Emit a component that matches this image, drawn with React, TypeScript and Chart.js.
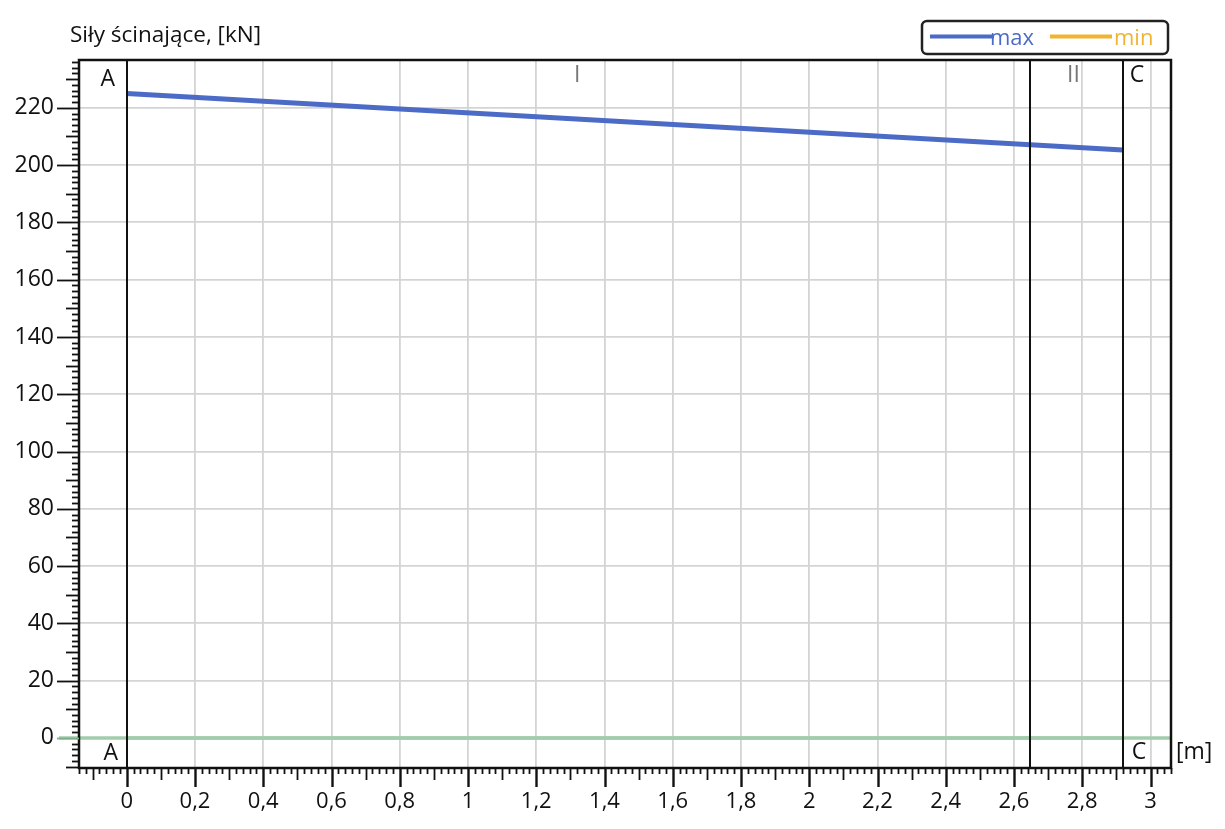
import React, { useEffect, useRef } from "react";
import { Chart, registerables } from "chart.js";

Chart.register(...registerables);

// ---- data ----
const sectionLines = [0, 2.647, 2.919];
const maxX = [0, 2.919];
const maxValues = [225, 205.3];
const minX = [0, 2.919];
const minValues = [0, 0];
const xTickValues = [0, 0.2, 0.4, 0.6, 0.8, 1, 1.2, 1.4, 1.6, 1.8, 2, 2.2, 2.4, 2.6, 2.8, 3];
const yTickValues = [0, 20, 40, 60, 80, 100, 120, 140, 160, 180, 200, 220];
const legendNames = ["max", "min"];
const titleText = "Siły ścinające, [kN]";
const unitText = "[m]";

const FONT = "'Open Sans', 'Noto Sans', sans-serif";
const BLUE = "#4b6bc6";
const ORANGE = "#f0b432";
const GREEN = "#a3ccad";
const TEXT = "#111";

const fmt = (v: number) => String(Math.round(v * 100) / 100).replace(".", ",");

const decorPlugin = {
  id: "decor",
  beforeDatasetsDraw(chart: any) {
    const { ctx, chartArea: a, scales } = chart;
    const y = scales.y;
    ctx.save();
    ctx.strokeStyle = GREEN;
    ctx.lineWidth = 3.5;
    const y0 = y.getPixelForValue(0);
    ctx.beginPath();
    ctx.moveTo(a.left - 20, y0);
    ctx.lineTo(a.right, y0);
    ctx.stroke();
    ctx.restore();
  },
  afterDraw(chart: any) {
    const { ctx, chartArea: a, scales } = chart;
    const x = scales.x;
    const y = scales.y;
    ctx.save();
    ctx.strokeStyle = "#111";
    ctx.lineCap = "butt";

    // section lines
    ctx.lineWidth = 2;
    for (const s of sectionLines) {
      const px = Math.round(x.getPixelForValue(s));
      ctx.beginPath();
      ctx.moveTo(px, a.top);
      ctx.lineTo(px, a.bottom);
      ctx.stroke();
    }

    // frame
    ctx.lineWidth = 2.5;
    ctx.strokeRect(a.left, a.top, a.right - a.left, a.bottom - a.top);

    // y minor ticks
    ctx.lineWidth = 1.8;
    for (let i = -5; i <= 118; i++) {
      const v = i * 2;
      const py = y.getPixelForValue(v);
      if (py < a.top || py > a.bottom) continue;
      const len = v % 20 === 0 ? 22 : v % 10 === 0 ? 13 : 7;
      ctx.strokeStyle = v === 0 ? "#7fae8a" : "#111";
      ctx.beginPath();
      ctx.moveTo(a.left - len, Math.round(py) + 0.5);
      ctx.lineTo(a.left, Math.round(py) + 0.5);
      ctx.stroke();
    }
    ctx.strokeStyle = "#111";
    // x minor ticks
    for (let i = -7; i <= 153; i++) {
      const v = i * 0.02;
      const px = x.getPixelForValue(v);
      if (px < a.left || px > a.right) continue;
      const len = i % 10 === 0 ? 19 : i % 5 === 0 ? 12 : 6;
      ctx.lineWidth = i % 10 === 0 ? 2.4 : 1.8;
      ctx.beginPath();
      ctx.moveTo(Math.round(px) + 0.5, a.bottom);
      ctx.lineTo(Math.round(px) + 0.5, a.bottom + len);
      ctx.stroke();
    }

    // section labels
    ctx.fillStyle = TEXT;
    ctx.font = `23px ${FONT}`;
    ctx.textBaseline = "middle";
    ctx.textAlign = "center";
    const xA = x.getPixelForValue(sectionLines[0]);
    const xC = x.getPixelForValue(sectionLines[2]);
    ctx.fillText("A", xA - 19, a.top + 19);
    ctx.fillText("A", xA - 16, a.bottom - 15);
    ctx.fillText("C", xC + 14, a.top + 15);
    ctx.fillText("C", xC + 16, a.bottom - 16);
    ctx.fillStyle = "#777";
    ctx.fillText("I", x.getPixelForValue(1.32), a.top + 15);
    ctx.fillText("II", x.getPixelForValue(2.774), a.top + 15);

    // unit
    ctx.fillStyle = TEXT;
    ctx.textAlign = "left";
    ctx.font = `23px ${FONT}`;
    ctx.fillText(unitText, a.right + 5, a.bottom - 16);

    // title
    ctx.font = `22.5px ${FONT}`;
    ctx.textAlign = "left";
    ctx.fillText(titleText, 70, 36);

    // legend box
    const lx = 922, ly = 21, lw = 246, lh = 33;
    ctx.strokeStyle = "#222";
    ctx.lineWidth = 2.5;
    ctx.beginPath();
    (ctx as any).roundRect(lx, ly, lw, lh, 5);
    ctx.stroke();
    const cy = ly + lh / 2;
    ctx.lineWidth = 4;
    ctx.strokeStyle = BLUE;
    ctx.beginPath();
    ctx.moveTo(lx + 8, cy - 1);
    ctx.lineTo(lx + 72, cy - 1);
    ctx.stroke();
    ctx.strokeStyle = ORANGE;
    ctx.beginPath();
    ctx.moveTo(lx + 128, cy - 1);
    ctx.lineTo(lx + 190, cy - 1);
    ctx.stroke();
    ctx.font = `22px ${FONT}`;
    ctx.fillStyle = BLUE;
    ctx.fillText(legendNames[0], lx + 68, cy + 1);
    ctx.fillStyle = ORANGE;
    ctx.fillText(legendNames[1], lx + 192, cy + 1);

    ctx.restore();
  },
};

export default function App() {
  const ref = useRef<HTMLCanvasElement | null>(null);
  useEffect(() => {
    if (!ref.current) return;
    document.body.style.margin = "0";
    const chart = new Chart(ref.current, {
      type: "scatter",
      data: {
        datasets: [
          {
            label: legendNames[0],
            data: maxX.map((v, i) => ({ x: v, y: maxValues[i] })),
            showLine: true,
            borderColor: BLUE,
            borderWidth: 5,
            pointRadius: 0,
          },
          {
            label: legendNames[1],
            data: minX.map((v, i) => ({ x: v, y: minValues[i] })),
            showLine: true,
            borderColor: GREEN,
            borderWidth: 3.5,
            pointRadius: 0,
          },
        ],
      },
      options: {
        responsive: false,
        animation: false,
        layout: { padding: { top: 60, right: 54, left: 0, bottom: 0 } },
        plugins: { legend: { display: false }, tooltip: { enabled: false } },
        scales: {
          x: {
            type: "linear",
            min: -0.14,
            max: 3.06,
            afterBuildTicks: (s: any) => {
              s.ticks = xTickValues.map((v) => ({ value: v }));
            },
            afterFit: (s: any) => {
              s.height = 61;
            },
            grid: { color: "#d4d4d4", lineWidth: 1.8, drawTicks: false },
            border: { display: false },
            ticks: {
              padding: 21,
              color: TEXT,
              font: { size: 22, family: FONT },
              maxRotation: 0,
              autoSkip: false,
              callback: (v: any) => fmt(Number(v)),
            },
          },
          y: {
            type: "linear",
            min: -10.5,
            max: 236.7,
            afterBuildTicks: (s: any) => {
              s.ticks = yTickValues.map((v) => ({ value: v }));
            },
            afterFit: (s: any) => {
              s.width = 79;
            },
            grid: { color: "#d4d4d4", lineWidth: 1.8, drawTicks: false },
            border: { display: false },
            ticks: {
              padding: 25,
              color: TEXT,
              font: { size: 23, family: FONT },
              autoSkip: false,
              callback: (v: any) => fmt(Number(v)),
            },
          },
        },
      },
      plugins: [decorPlugin],
    });
    return () => chart.destroy();
  }, []);
  return (
    <canvas
      ref={ref}
      width={1225}
      height={829}
      style={{ position: "absolute", left: 0, top: 0, display: "block", background: "#fff" }}
    />
  );
}
